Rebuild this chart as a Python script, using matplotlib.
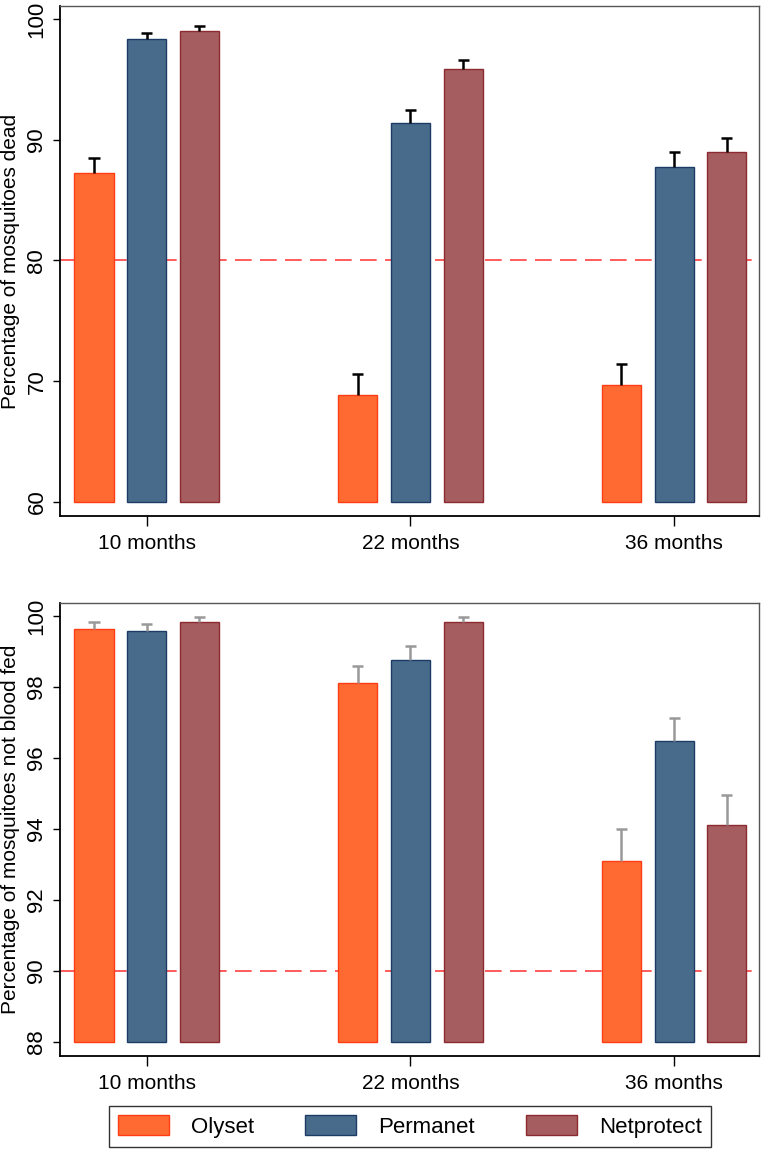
import numpy as np
import matplotlib.pyplot as plt
from matplotlib.patches import Patch

plt.rcParams['font.family'] = ['Liberation Sans', 'DejaVu Sans']

groups = ['10 months', '22 months', '36 months']
nets = ['Olyset', 'Permanet', 'Netprotect']

# percentage dead (top) with upper CI
dead = {'Olyset': [87.2, 68.86, 69.69],
        'Permanet': [98.37, 91.40, 87.76],
        'Netprotect': [99.02, 95.87, 89.0]}
dead_hi = {'Olyset': [88.5, 70.60, 71.42],
           'Permanet': [98.8, 92.45, 88.97],
           'Netprotect': [99.41, 96.59, 90.16]}

# percentage not blood fed (bottom) with upper CI
unfed = {'Olyset': [99.64, 98.10, 93.10],
         'Permanet': [99.58, 98.76, 96.47],
         'Netprotect': [99.83, 99.83, 94.10]}
unfed_hi = {'Olyset': [99.84, 98.59, 94.01],
            'Permanet': [99.79, 99.15, 97.13],
            'Netprotect': [99.96, 99.96, 94.95]}

fills = {'Olyset': '#ff6a33', 'Permanet': '#486b8c', 'Netprotect': '#a65d60'}
edges = {'Olyset': '#ff3d14', 'Permanet': '#1c3c66', 'Netprotect': '#8c2a30'}

fig = plt.figure(figsize=(7.64, 11.5), dpi=100)
ax1 = fig.add_axes([0.0785, 0.5513, 0.915, 0.4435])
ax2 = fig.add_axes([0.0785, 0.0817, 0.915, 0.394])

x = np.arange(len(groups))
width = 0.148
offs = [-0.2, 0.0, 0.2]
cap = 0.021


def draw(ax, vals, hi, base, ylim, ticks, ref, ylabel, ecol):
    for i, n in enumerate(nets):
        v = np.array(vals[n])
        h = np.array(hi[n])
        xs = x + offs[i]
        ax.bar(xs, v - base, width, bottom=base, color=fills[n],
               edgecolor=edges[n], linewidth=1.0, zorder=3)
        # upper error bar only
        ax.vlines(xs, v, h, color=ecol, lw=1.8, zorder=4)
        ax.hlines(h, xs - cap, xs + cap, color=ecol, lw=1.8, zorder=4)
    ax.axhline(ref, color='#ff4040', lw=1.2, dashes=(10, 5), zorder=2)
    ax.set_xlim(-0.329, 2.322)
    ax.set_ylim(*ylim)
    ax.set_yticks(ticks)
    ax.set_yticklabels([str(t) for t in ticks], rotation=90, va='center', fontsize=16)
    ax.set_xticks(x)
    ax.set_xticklabels(groups, fontsize=15)
    ax.tick_params(axis='x', length=7, width=1, pad=6)
    ax.tick_params(axis='y', length=5, width=1, pad=4)
    ax.set_ylabel(ylabel, fontsize=15, labelpad=5)
    for s in ['left', 'bottom']:
        ax.spines[s].set_linewidth(1.3)
        ax.spines[s].set_color('black')
    for s in ['top', 'right']:
        ax.spines[s].set_linewidth(1.0)
        ax.spines[s].set_color('#555555')


draw(ax1, dead, dead_hi, 60, (58.84, 101.07), [60, 70, 80, 90, 100], 80,
     'Percentage of mosquitoes dead', 'black')
draw(ax2, unfed, unfed_hi, 88, (87.6, 100.37), [88, 90, 92, 94, 96, 98, 100], 90,
     'Percentage of mosquitoes not blood fed', '#999999')

handles = [Patch(facecolor=fills[n], edgecolor=edges[n], label=n) for n in nets]
leg = fig.legend(handles=handles, loc='center', bbox_to_anchor=(410 / 764, 1 - 1126.5 / 1150),
                 ncol=3, fontsize=16, frameon=True, fancybox=False, edgecolor='black',
                 handlelength=2.3, handleheight=1.0, columnspacing=2.3, handletextpad=1.0,
                 borderpad=0.4, borderaxespad=0)
leg.get_frame().set_linewidth(1.0)

fig.savefig('out.png', dpi=100)
